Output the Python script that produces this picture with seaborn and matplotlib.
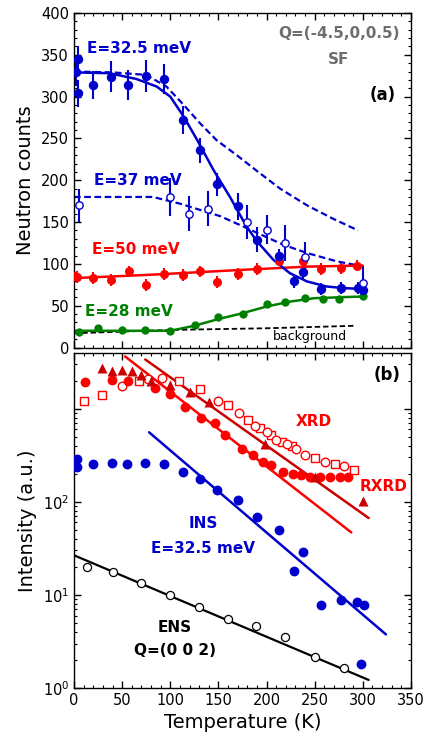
import numpy as np
import matplotlib
matplotlib.use("Agg")
import matplotlib.pyplot as plt
from matplotlib.ticker import MultipleLocator
import seaborn as sns

# ---- panel (a): neutron counts, Q=(-4.5,0,0.5) SF ----
T32 = [2, 4, 4, 20, 38, 56, 75, 93, 113, 131, 148, 170, 190, 213, 229, 238, 257, 277, 295, 300]
N32 = [329, 345, 304, 314, 324, 314, 325, 321, 272, 236, 195, 169, 129, 110, 79, 90, 70, 71, 71, 69]
E32 = [16, 16, 16, 17, 19, 18, 19, 18, 17, 15, 14, 16, 15, 8, 8, 8, 7, 7, 7, 7]

fit32_T = [0, 37, 65, 86, 100, 114, 128, 145, 162, 179, 190, 207, 224, 242, 262, 280, 300]
fit32_N = [329, 328, 321, 312, 300, 276, 248, 212, 180, 145, 127, 105, 89, 79, 73, 71, 70]
dash32_T = [0, 40, 75, 96, 114, 131, 148, 169, 189, 214, 242, 269, 295]
dash32_N = [330, 329, 326, 312, 290, 268, 248, 230, 212, 190, 170, 154, 140]

T37 = [5, 100, 119, 139, 180, 200, 219, 240, 300]
N37 = [170, 180, 160, 166, 150, 141, 125, 108, 77]
E37 = [20, 23, 21, 21, 20, 17, 22, 18, 20]
dash37_T = [0, 40, 82, 110, 152, 179, 217, 242, 273, 300]
dash37_N = [180, 180, 180, 172, 157, 143, 123, 113, 103, 97]

T50 = [0, 3, 20, 38, 57, 75, 93, 113, 131, 148, 170, 190, 213, 238, 257, 277, 294]
N50 = [86, 84, 83, 81, 91, 75, 88, 87, 91, 78, 88, 94, 104, 104, 94, 95, 98]
E50 = [7] * len(T50)
fit50_T = [0, 80, 172, 207, 242, 300]
fit50_N = [83, 87, 92.7, 94.7, 96.7, 98]

T28 = [5, 25, 50, 74, 100, 126, 150, 175, 200, 219, 240, 259, 275, 300]
N28 = [19, 23, 21, 21, 20, 27, 36, 40, 52, 55, 59, 58, 58, 61]
fit28_T = [0, 50, 100, 125, 150, 175, 200, 225, 250, 275, 300]
fit28_N = [20, 20, 20, 26, 34, 41, 49, 55, 59, 60, 61]

bg_T = [0, 100, 200, 293]
bg_N = [17, 21, 23, 26]

# ---- panel (b): intensity (a.u.), log scale ----
Tfill = [11, 39, 56, 84, 100, 115, 132, 146, 157, 174, 186, 196, 205, 217, 227, 236, 245, 256, 266, 276, 285]
Ifill = [1905, 2042, 1995, 1660, 1445, 1047, 794, 692, 519, 372, 316, 269, 245, 209, 200, 193, 186, 184, 186, 184, 184]

Tsq = [10, 29, 68, 109, 131, 160, 181, 193, 205, 216, 226, 250, 271, 291]
Isq = [1202, 1413, 1995, 1995, 1622, 1096, 759, 620, 519, 437, 400, 295, 251, 219]

Tocirc = [50, 77, 91, 150, 171, 188, 200, 210, 221, 231, 240, 261, 280]
Iocirc = [1738, 2089, 2138, 1202, 891, 646, 562, 457, 417, 372, 316, 269, 240]

Ttri = [29, 39, 50, 60, 70, 80, 100, 120, 140, 198, 250, 300]
Itri = [2754, 2512, 2570, 2512, 2291, 1995, 1778, 1514, 1175, 417, 184, 102]

Tins = [3, 3, 20, 39, 55, 74, 93, 113, 131, 148, 170, 190, 213, 229, 238, 257, 277, 294, 301, 298]
Iins = [288, 234, 251, 263, 251, 263, 254, 209, 174, 135, 105, 68, 50, 18.2, 28.8, 7.7, 8.8, 8.3, 7.7, 1.82]

Tens = [14, 41, 70, 100, 130, 160, 189, 219, 250, 280]
Iens = [19.9, 17.6, 13.3, 10.0, 7.38, 5.53, 4.61, 3.52, 2.14, 1.63]

lineA_T, lineA_I = [74, 306], [3365, 66.8]     # upper guide, dark red
lineB_T, lineB_I = [53, 288], [3631, 46.8]     # lower guide, red
lineC_T, lineC_I = [78, 324], [556, 3.76]      # INS guide
lineD_T, lineD_I = [0, 306], [26.6, 1.22]      # ENS guide

BLUE = "#0000cc"
RED = "#ff0000"
DRED = "#cc0000"
GREEN = "#008000"
GRAY = "#6e6e6e"

sns.set_style("ticks")
plt.rcParams["font.family"] = ["DejaVu Sans"]
plt.rcParams["mathtext.fontset"] = "dejavusans"
for k in ("axes.edgecolor", "axes.labelcolor", "xtick.color", "ytick.color", "text.color"):
    plt.rcParams[k] = "black"

fig = plt.figure(figsize=(4.28, 7.47), dpi=100)
W, H = 428, 747
ax1 = fig.add_axes([74 / W, 1 - 347.5 / H, 337 / W, 334.5 / H])
ax2 = fig.add_axes([74 / W, 1 - 688 / H, 337 / W, 335 / H])

dash = (0, (3, 1.6))

# panel (a)
ax1.errorbar(T32, N32, yerr=E32, fmt="none", ecolor=BLUE, elinewidth=1.5)
ax1.errorbar(T37, N37, yerr=E37, fmt="none", ecolor=BLUE, elinewidth=1.5)
ax1.errorbar(T50, N50, yerr=E50, fmt="none", ecolor=RED, elinewidth=1.5)

sns.lineplot(x=dash32_T, y=dash32_N, ax=ax1, color=BLUE, linewidth=1.6, linestyle=dash, estimator=None)
sns.lineplot(x=dash37_T, y=dash37_N, ax=ax1, color=BLUE, linewidth=1.6, linestyle=dash, estimator=None)
sns.lineplot(x=bg_T, y=bg_N, ax=ax1, color="black", linewidth=1.3, linestyle=dash, estimator=None)
sns.lineplot(x=fit50_T, y=fit50_N, ax=ax1, color=RED, linewidth=1.8, estimator=None)
sns.lineplot(x=fit28_T, y=fit28_N, ax=ax1, color=GREEN, linewidth=1.8, estimator=None)
sns.lineplot(x=fit32_T, y=fit32_N, ax=ax1, color=BLUE, linewidth=1.8, estimator=None)

sns.scatterplot(x=T50, y=N50, ax=ax1, color=RED, s=42, edgecolor=RED, linewidth=0, zorder=3)
sns.scatterplot(x=T28, y=N28, ax=ax1, color=GREEN, s=36, edgecolor=GREEN, linewidth=0, zorder=3)
sns.scatterplot(x=T32, y=N32, ax=ax1, color=BLUE, s=46, edgecolor=BLUE, linewidth=0, zorder=3)
sns.scatterplot(x=T37, y=N37, ax=ax1, color="white", s=28, edgecolor=BLUE, linewidth=1.0, zorder=4)

ax1.set_xlim(0, 350)
ax1.set_ylim(0, 400)
ax1.xaxis.set_major_locator(MultipleLocator(50))
ax1.xaxis.set_minor_locator(MultipleLocator(10))
ax1.yaxis.set_major_locator(MultipleLocator(50))
ax1.yaxis.set_minor_locator(MultipleLocator(10))
ax1.tick_params(which="both", direction="in", top=True, right=True, labelbottom=False, labelsize=10.5)
ax1.tick_params(which="major", length=5, width=1)
ax1.tick_params(which="minor", length=2.5, width=0.8)
ax1.set_ylabel("Neutron counts", fontsize=14)
ax1.set_xlabel("")

bold = dict(fontweight="bold", fontsize=11, ha="center", va="center")
ax1.text(67, 358, "E=32.5 meV", color=BLUE, **bold)
ax1.text(66, 200, "E=37 meV", color=BLUE, **bold)
ax1.text(64, 117, "E=50 meV", color=RED, **bold)
ax1.text(57, 43, "E=28 meV", color=GREEN, **bold)
ax1.text(245, 13, "background", color="black", fontsize=9, ha="center", va="center")
ax1.text(275, 376, "Q=(-4.5,0,0.5)", color=GRAY, **bold)
ax1.text(275, 344, "SF", color=GRAY, **bold)
ax1.text(321, 302, "(a)", color="black", fontweight="bold", fontsize=12, ha="center", va="center")

# panel (b)
sns.lineplot(x=lineA_T, y=lineA_I, ax=ax2, color=DRED, linewidth=1.8, estimator=None)
sns.lineplot(x=lineB_T, y=lineB_I, ax=ax2, color=RED, linewidth=1.8, estimator=None)
sns.lineplot(x=lineC_T, y=lineC_I, ax=ax2, color=BLUE, linewidth=1.8, estimator=None)
sns.lineplot(x=lineD_T, y=lineD_I, ax=ax2, color="black", linewidth=1.6, estimator=None)

sns.scatterplot(x=Tsq, y=Isq, ax=ax2, marker="s", color="white", edgecolor=RED, s=34, linewidth=1.0, zorder=3)
sns.scatterplot(x=Tocirc, y=Iocirc, ax=ax2, marker="o", color="white", edgecolor=RED, s=38, linewidth=1.0, zorder=3)
sns.scatterplot(x=Tfill, y=Ifill, ax=ax2, marker="o", color=RED, edgecolor=RED, s=50, linewidth=0, zorder=4)
sns.scatterplot(x=Ttri, y=Itri, ax=ax2, marker="^", color=DRED, edgecolor=DRED, s=52, linewidth=0, zorder=5)
sns.scatterplot(x=Tins, y=Iins, ax=ax2, marker="o", color=BLUE, edgecolor=BLUE, s=50, linewidth=0, zorder=4)
sns.scatterplot(x=Tens, y=Iens, ax=ax2, marker="o", color="white", edgecolor="black", s=34, linewidth=0.9, zorder=4)

ax2.set_yscale("log")
ax2.set_xlim(0, 350)
ax2.set_ylim(1, 3950)
ax2.xaxis.set_major_locator(MultipleLocator(50))
ax2.xaxis.set_minor_locator(MultipleLocator(10))
ax2.set_yticks([1, 10, 100, 1000])
ax2.set_yticklabels([r"$10^0$", r"$10^1$", r"$10^2$", ""])
ax2.tick_params(which="both", direction="in", top=True, right=True, labelsize=10.5)
ax2.tick_params(which="major", length=5, width=1)
ax2.tick_params(which="minor", length=2.5, width=0.8)
ax2.tick_params(axis="y", which="minor", labelleft=False)
ax2.set_ylabel("Intensity (a.u.)", fontsize=14)
ax2.set_xlabel("Temperature (K)", fontsize=14)

ax2.text(325, 2290, "(b)", color="black", fontweight="bold", fontsize=12, ha="center", va="center")
ax2.text(249, 721, "XRD", color=RED, **bold)
ax2.text(321, 147, "RXRD", color=RED, **bold)
ax2.text(134, 58.7, "INS", color=BLUE, **bold)
ax2.text(134, 31.6, "E=32.5 meV", color=BLUE, **bold)
ax2.text(105, 4.47, "ENS", color="black", **bold)
ax2.text(105, 2.53, "Q=(0 0 2)", color="black", **bold)

for ax in (ax1, ax2):
    for sp in ax.spines.values():
        sp.set_linewidth(1.0)

fig.savefig("out.png", dpi=100)
